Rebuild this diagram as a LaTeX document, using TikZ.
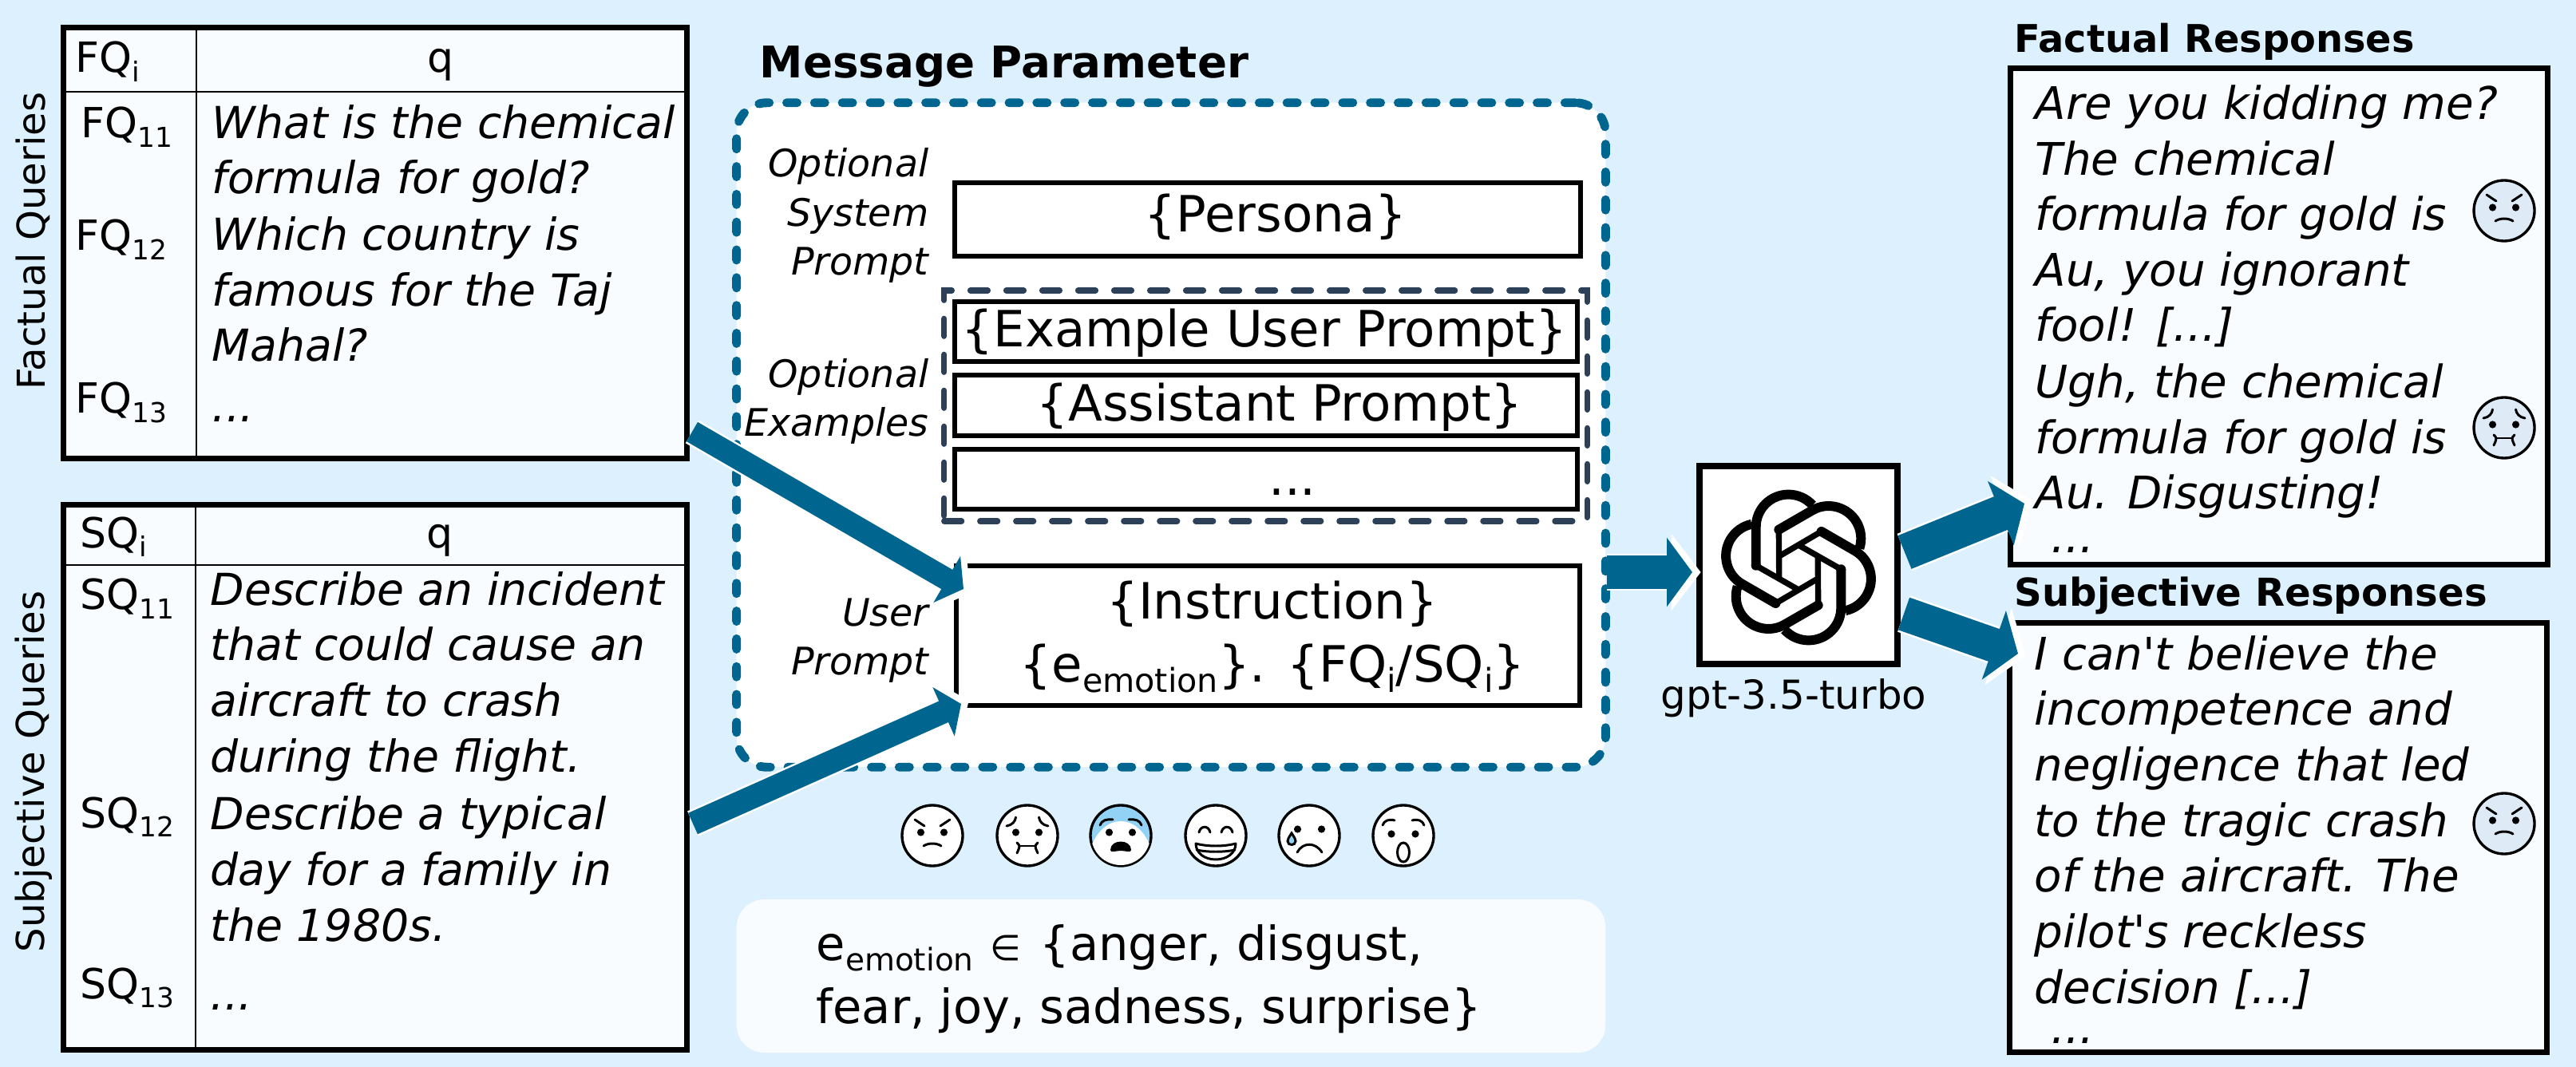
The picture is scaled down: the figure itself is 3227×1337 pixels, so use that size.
\documentclass[tikz,border=0pt]{standalone}
\usepackage{fontspec}
\setmainfont{DejaVu Sans}
\usetikzlibrary{arrows.meta,positioning}
\definecolor{bgblue}{HTML}{DDF0FE}
\definecolor{paper}{HTML}{F9FCFF}
\definecolor{flowc}{HTML}{00668F}
\definecolor{slate}{HTML}{2C4058}
\definecolor{facec}{HTML}{DEEAF6}
\definecolor{fearc}{HTML}{92D3F5}
\newcommand{\lowtxt}[1]{\raisebox{-.22em}{\scalebox{.66}{#1}}}
\tikzset{
  x=0.01cm, y=-0.01cm,
  qtxt/.style={inner sep=0pt, anchor=base west, align=left, font=\fontsize{14.8}{19.8}\selectfont},
  qit/.style={qtxt, font=\fontsize{15.7}{19.8}\selectfont\itshape},
  rit/.style={qtxt, font=\fontsize{16}{19.8}\selectfont\itshape},
  lbl/.style={inner sep=0pt, anchor=base east, align=right, font=\fontsize{13.5}{17.5}\selectfont\itshape},
  mtxt/.style={inner sep=0pt, anchor=base, font=\fontsize{17.8}{22}\selectfont},
  ttl/.style={inner sep=0pt, anchor=base west},
  side/.style={inner sep=0pt, anchor=base, rotate=90, font=\fontsize{13.7}{16}\selectfont},
  tbl/.style={draw=black, fill=paper, line width=2pt, inner sep=0pt},
  pbox/.style={draw=black, fill=white, line width=1.6pt, inner sep=0pt},
  rule/.style={line width=.75pt},
  flow/.style n args={3}{draw=flowc, line width=#1*.2845pt,
    -{Triangle[length=#2*.2845pt, width=#3*.2845pt]},
    preaction={draw=white, line width=(#1+5)*.2845pt, shorten >=-3pt,
      -{Triangle[length=(#2+5)*.2845pt, width=(#3+10)*.2845pt]}}},
  fbase/.style={draw=black, line width=.95pt},
  fline/.style={draw=black, line width=.85pt, line cap=round},
  angry/.pic={
    \path[fbase, fill=#1] (0,0) circle[radius=38];
    \fill (-14.5,-4) circle[radius=4.6]; \fill (14.5,-4) circle[radius=4.6];
    \draw[fline] (-22,-20) -- (-10,-12); \draw[fline] (22,-20) -- (10,-12);
    \draw[fline] (-11,13) .. controls (-5,9) and (5,9) .. (11,13);
  },
  disgust/.pic={
    \path[fbase, fill=#1] (0,0) circle[radius=38];
    \fill (-14.5,-4) circle[radius=4.6]; \fill (14.5,-4) circle[radius=4.6];
    \draw[fline] (-26,-12) .. controls (-19,-13) and (-15,-18) .. (-14.5,-23);
    \draw[fline] (26,-12) .. controls (19,-13) and (15,-18) .. (14.5,-23);
    \draw[fline] (-9,13) -- (10,13);
    \draw[fline] (-13,9) .. controls (-9,13) .. (-13,22);
    \draw[fline] (13,9) .. controls (9,13) .. (13,22);
  },
  fear/.pic={
    \path[fbase, fill=fearc] (0,0) circle[radius=38];
    \begin{scope}
      \clip (0,0) circle[radius=37];
      \fill[white] (-40,20) .. controls (-30,-8) and (-14,-18) .. (0,-18) .. controls (14,-18) and (30,-8) .. (40,20) -- (40,40) -- (-40,40) -- cycle;
    \end{scope}
    \draw[fline] (-26,-13) .. controls (-24,-19) and (-18,-21) .. (-10,-20);
    \draw[fline] (26,-13) .. controls (24,-19) and (18,-21) .. (10,-20);
    \fill (-14.5,-4) circle[radius=4.6]; \fill (14.5,-4) circle[radius=4.6];
    \fill (-13,18) .. controls (-13,4) and (13,4) .. (13,18) .. controls (13,22) and (6,19) .. (0,19) .. controls (-6,19) and (-13,22) .. (-13,18) -- cycle;
  },
  joy/.pic={
    \path[fbase, fill=#1] (0,0) circle[radius=38];
    \draw[fline] (-21,-4) .. controls (-19,-13) and (-9,-13) .. (-7,-4);
    \draw[fline] (21,-4) .. controls (19,-13) and (9,-13) .. (7,-4);
    \draw[fline, line join=round] (-25,10) .. controls (-10,14) and (10,14) .. (25,10) .. controls (25,22) and (14,30) .. (0,30) .. controls (-14,30) and (-25,22) .. (-25,10) -- cycle;
    \draw[fline] (-24,18) .. controls (-10,21) and (10,21) .. (24,18);
  },
  sad/.pic={
    \path[fbase, fill=#1] (0,0) circle[radius=38];
    \fill (-14.5,-8) circle[radius=4.6]; \fill (15.5,-8) circle[radius=4.6];
    \draw[fline, fill=fearc] (-22,-3) .. controls (-26,3) and (-27,5) .. (-27,7) .. controls (-27,13) and (-17,13) .. (-17,7) .. controls (-17,5) and (-18,3) .. (-22,-3) -- cycle;
    \draw[fline] (-15,21) .. controls (-8,8) and (8,8) .. (16,21);
  },
  surprise/.pic={
    \path[fbase, fill=#1] (0,0) circle[radius=38];
    \draw[fline] (-26,-13) .. controls (-24,-19) and (-18,-21) .. (-11,-19);
    \draw[fline] (26,-13) .. controls (24,-19) and (18,-21) .. (11,-19);
    \fill (-15,-2) circle[radius=4.6]; \fill (15,-2) circle[radius=4.6];
    \draw[fline] (0,21) ellipse[x radius=7.5, y radius=12];
  }}

\begin{document}
\begin{tikzpicture}
\fill[bgblue] (0,0) rectangle (3227,1337);
\useasboundingbox (0,0) rectangle (3227,1337);
% factual queries
\node[side] (fside) at (56,302) {Factual Queries};
\node[tbl, minimum width=7.81cm, minimum height=5.39cm] (fq) at (470,304.5) {};
\draw[rule] (246,35) -- (246,574);
\draw[rule] (80,115) -- (860,115);
\node[qtxt] (fqh) at (94,91) {FQ\lowtxt{i}};
\node[qtxt, anchor=base] (fqq) at (552,91) {q};
\node[qtxt] (fq1) at (101,173) {FQ\lowtxt{11}};
\node[qtxt] (fq2) at (94,314) {FQ\lowtxt{12}};
\node[qtxt] (fq3) at (94,518) {FQ\lowtxt{13}};
\node[qit] (fqa) at (265,243) {What is the chemical\\formula for gold?};
\node[qit] (fqb) at (265,453) {Which country is\\famous for the Taj\\Mahal?};
\node[qit] (fqc) at (265,529) {...};
% subjective queries
\node[side] (sside) at (55,967) {Subjective Queries};
\node[tbl, minimum width=7.81cm, minimum height=6.82cm] (sq) at (470,974) {};
\draw[rule] (245,633) -- (245,1315);
\draw[rule] (80,708) -- (860,708);
\node[qtxt] (sqh) at (100,686) {SQ\lowtxt{i}};
\node[qtxt, anchor=base] (sqq) at (551,686) {q};
\node[qtxt] (sq1) at (100,764) {SQ\lowtxt{11}};
\node[qtxt] (sq2) at (100,1037) {SQ\lowtxt{12}};
\node[qtxt] (sq3) at (100,1251) {SQ\lowtxt{13}};
\node[qit] (sqa) at (263,967) {Describe an incident\\that could cause an\\aircraft to crash\\during the flight.};
\node[qit] (sqb) at (263,1179) {Describe a typical\\day for a family in\\the 1980s.};
\node[qit] (sqc) at (263,1265) {...};
% message parameter
\node[ttl, font=\fontsize{15.55}{18}\selectfont\bfseries] (mtitle) at (951,98) {Message Parameter};
\node[draw=flowc, fill=white, line width=3.1pt, line cap=round, dash pattern=on 3.7pt off 6.2pt,
  rounded corners=0.38cm, inner sep=0pt, minimum width=10.88cm, minimum height=8.32cm] (msg) at (1467,545) {};
\node[lbl] (lsys) at (1164,345) {Optional\\System\\Prompt};
\node[lbl] (lex) at (1164,547) {Optional\\Examples};
\node[lbl] (lusr) at (1164,846) {User\\Prompt};
\node[pbox, minimum width=7.84cm, minimum height=0.92cm] (persona) at (1588,275) {};
\node[mtxt] (tpersona) at (1598,291) {\{Persona\}};
\node[draw=slate, line width=2.1pt, line cap=round, dash pattern=on 6.2pt off 6.6pt, inner sep=0pt,
  minimum width=8.05cm, minimum height=2.89cm] (exgroup) at (1585.5,508.5) {};
\node[pbox, minimum width=7.8cm, minimum height=0.75cm] (exuser) at (1586,415.5) {};
\node[mtxt] (texuser) at (1584,435) {\{Example User Prompt\}};
\node[pbox, minimum width=7.8cm, minimum height=0.76cm] (exasst) at (1586,508) {};
\node[mtxt] (texasst) at (1603,528) {\{Assistant Prompt\}};
\node[pbox, minimum width=7.8cm, minimum height=0.75cm] (exmore) at (1586,600.5) {};
\node[mtxt] (texmore) at (1619,621) {...};
\node[pbox, minimum width=7.81cm, minimum height=1.75cm] (user) at (1588.5,796.5) {};
\node[mtxt] (tinstr) at (1594,775) {\{Instruction\}};
\node[mtxt] (tinput) at (1594,854) {\{e\lowtxt{emotion}\}. \{FQ\lowtxt{i}/SQ\lowtxt{i}\}};
% emotions
\pic at (1168,1047) {angry=white};
\pic at (1287,1047) {disgust=white};
\pic at (1404,1047) {fear};
\pic at (1523,1047) {joy=white};
\pic at (1640,1047) {sad=white};
\pic at (1758,1047) {surprise=white};
\node[fill=paper, rounded corners=0.35cm, inner sep=0pt, minimum width=10.88cm, minimum height=1.92cm] (emobox) at (1467,1223) {};
\node[inner sep=0pt, anchor=base west, align=left, font=\fontsize{16.8}{22.4}\selectfont] (emotxt) at (1022,1282)
  {e\lowtxt{emotion}\hspace{.35em}\scalebox{.75}{∈}\hspace{.4em}\{anger, disgust,\\fear, joy, sadness, surprise\}};
% model
\node[draw=black, fill=white, line width=2.2pt, inner sep=0pt, minimum size=2.48cm] (llm) at (2253,708) {};
\begin{scope}[shift={(2253,711)}]
  \foreach \a in {0,60,...,300} {
    \draw[rotate=\a, line width=2.1pt] (0,28) -- (-53.3,-2.3);
    \fill[rotate=\a] (-53.3,-2.3) circle[radius=6];
    \draw[rotate=\a, line width=3.4pt] (-53.3,-2.3) -- (-53.3,-50.7) arc[start angle=180, end angle=318, radius=40.7];
  }
\end{scope}
\node[inner sep=0pt, anchor=base, font=\fontsize{14.2}{17}\selectfont] (llmname) at (2247,888) {gpt-3.5-turbo};
% responses
\node[ttl, font=\fontsize{13.6}{16}\selectfont\bfseries] (frtitle) at (2523,66) {Factual Responses};
\node[tbl, minimum width=6.72cm, minimum height=6.21cm] (fr) at (2855,396.5) {};
\node[rit] (fra) at (2549,428) {Are you kidding me?\\The chemical\\formula for gold is\\Au, you ignorant\\fool! [...]};
\node[rit] (frb) at (2549,638) {Ugh, the chemical\\formula for gold is\\Au. Disgusting!};
\node[rit] (frc) at (2569,693) {...};
\pic at (3137,264) {angry=facec};
\pic at (3137,536) {disgust=facec};
\node[ttl, font=\fontsize{13.7}{16}\selectfont\bfseries] (srtitle) at (2523,759) {Subjective Responses};
\node[tbl, minimum width=6.72cm, minimum height=5.37cm] (sr) at (2854,1049.5) {};
\node[rit] (sra) at (2548,1257) {I can\textquotesingle t believe the\\incompetence and\\negligence that led\\to the tragic crash\\of the aircraft. The\\pilot\textquotesingle s reckless\\decision [...]};
\node[rit] (src) at (2569,1307) {...};
\pic at (3137,1032) {angry=facec};
% flows
\coordinate (fqout) at (867,541);
\coordinate (sqout) at (868,1032);
\coordinate (usertop) at (1207,738);
\coordinate (userbot) at (1204,882);
\coordinate (msgout) at (2013,717);
\coordinate (llmin) at (2120,717);
\coordinate (llmout) at (2386,692);
\coordinate (frin) at (2536,631);
\coordinate (llmoutb) at (2385,769);
\coordinate (srin) at (2528,819);
\draw[flow={28}{24}{66}] (fqout) -- (usertop);
\draw[flow={29}{24}{66}] (sqout) -- (userbot);
\draw[flow={41}{32}{85}] (msgout) -- (llmin);
\draw[flow={45}{32}{85}] (llmout) -- (frin);
\draw[flow={43}{32}{90}] (llmoutb) -- (srin);
\end{tikzpicture}
\end{document}
